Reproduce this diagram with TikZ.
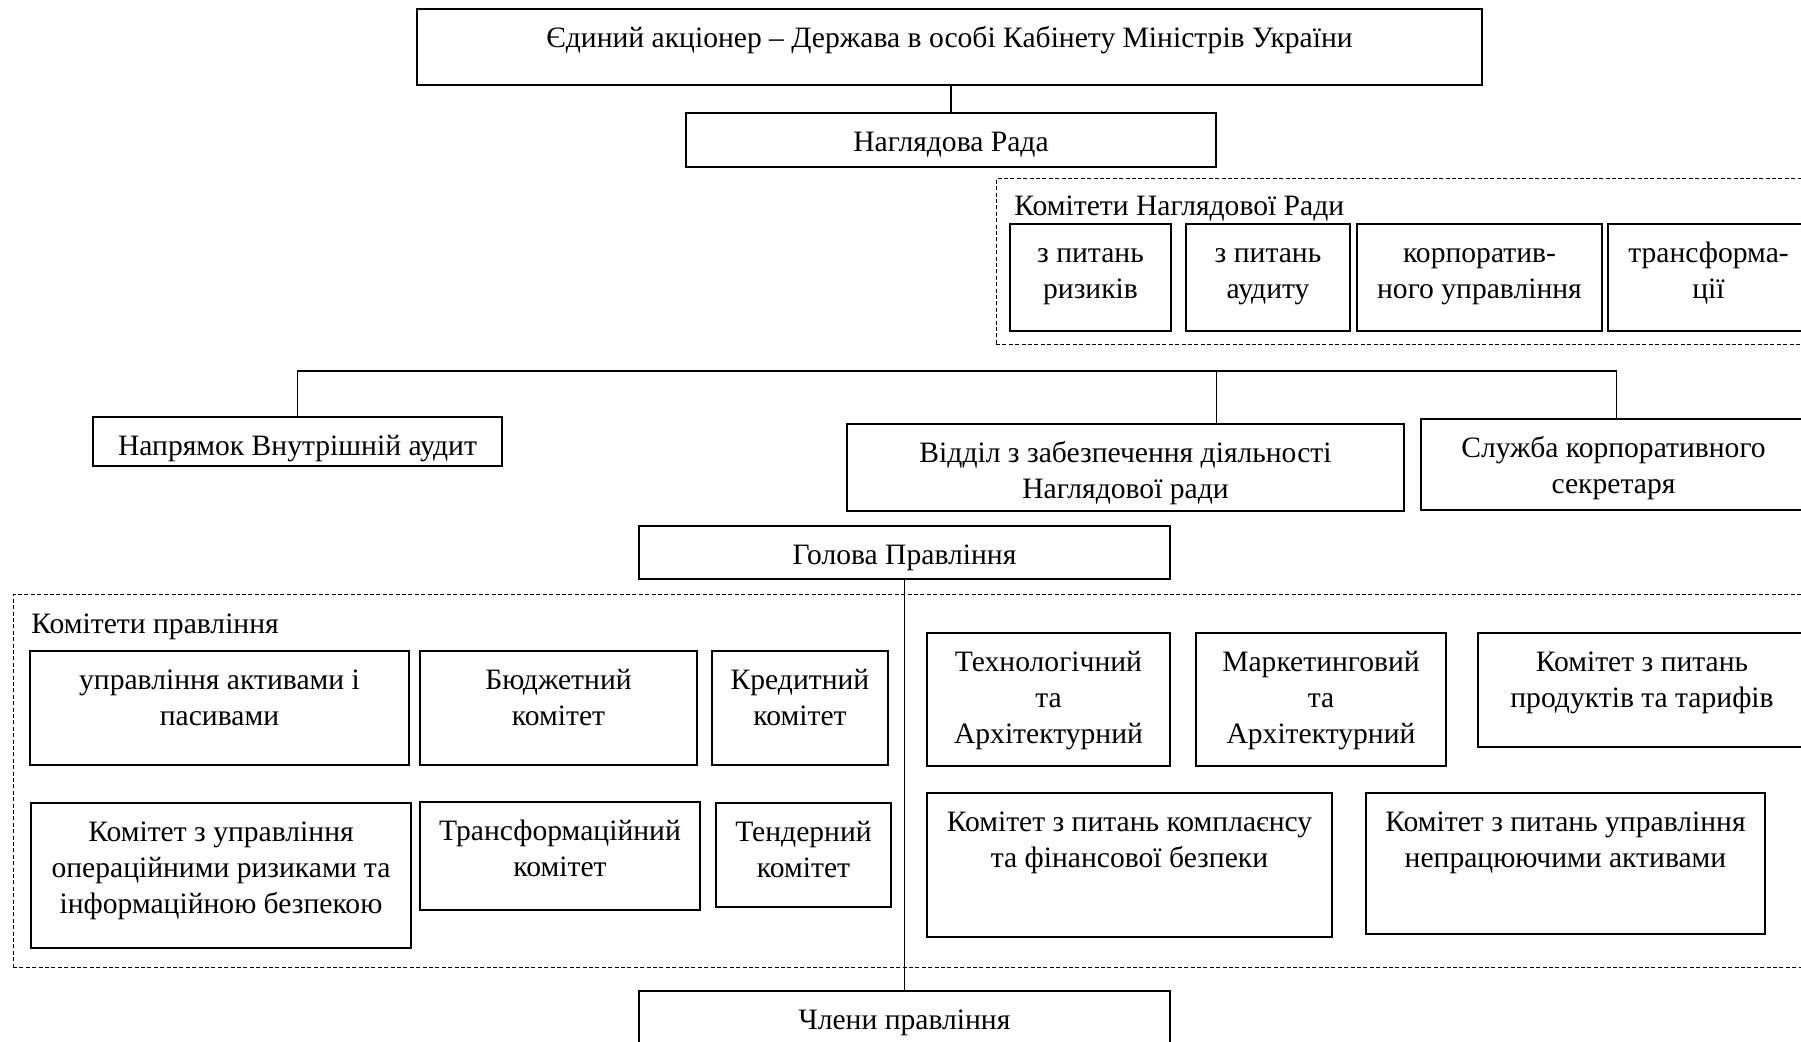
\documentclass[tikz,border=0pt]{standalone}
\usepackage{fontspec}
\setmainfont{Liberation Serif}
\usetikzlibrary{fit,shadows}
\newcommand\tstrut{\rule{0pt}{14pt}}
\tikzset{
  box/.style={draw, fill=white, line width=0.6pt, inner sep=0pt, rectangle,
    drop shadow={shadow xshift=0.6pt, shadow yshift=-0.6pt, fill=black!50, opacity=0.8}},
  grp/.style={draw, dash pattern=on 2pt off 1.2pt, line width=0.5pt, inner sep=0pt, rectangle},
  txt/.style={align=center, inner sep=0pt, font=\fontsize{14.8}{18}\selectfont},
  ttl/.style={inner sep=0pt, font=\fontsize{14.8}{18}\selectfont, anchor=base west},
  conn/.style={line width=0.6pt}
}
\newcommand\obox[6]{%
  \node[box, fit={(#2,#3) (#4,#5)}] (#1) {};
  \node[txt, anchor=north] (#1-t) at ([yshift=-5.5pt]#1.north) {\tstrut #6};}
\begin{document}
\begin{tikzpicture}[x=0.5pt,y=-0.5pt]
\clip (0,0) rectangle (1801,1042);
\fill[white] (0,0) rectangle (1801,1042);
% containers
\node[grp, fit={(996,179) (1815,345)}] (grpNR) {};
\node[ttl] (grpNR-t) at (1014,216) {Комітети Наглядової Ради};
\node[grp, fit={(13,595) (1815,968)}] (grpP) {};
\node[ttl] (grpP-t) at (31,634) {Комітети правління};
% boxes
\obox{top}{417}{9}{1482}{85}{Єдиний акціонер – Держава в особі Кабінету Міністрів України}
\obox{nr}{686}{113}{1216}{167}{Наглядова Рада}
\obox{k1}{1010}{224}{1171}{331}{з питань\\ризиків}
\obox{k2}{1186}{224}{1350}{331}{з питань\\аудиту}
\obox{k3}{1357}{224}{1602}{331}{корпоратив-\\ного управління}
\obox{k4}{1608}{224}{1809}{331}{трансформа-\\ції}
\obox{vna}{93}{417}{502}{466}{Напрямок Внутрішній аудит}
\obox{vid}{847}{424}{1404}{511}{Відділ з забезпечення діяльності\\Наглядової ради}
\obox{sl}{1421}{419}{1806}{510}{Служба корпоративного\\секретаря}
\obox{gp}{639}{526}{1170}{579}{Голова Правління}
\obox{c1}{30}{651}{409}{765}{управління активами і\\пасивами}
\obox{c2}{420}{651}{697}{765}{Бюджетний\\комітет}
\obox{c3}{712}{651}{888}{765}{Кредитний\\комітет}
\obox{c4}{31}{803}{411}{948}{Комітет з управління\\операційними ризиками та\\інформаційною безпекою}
\obox{c5}{420}{802}{700}{910}{Трансформаційний\\комітет}
\obox{c6}{716}{803}{891}{907}{Тендерний\\комітет}
\obox{c7}{927}{633}{1170}{766}{Технологічний\\та\\Архітектурний}
\obox{c8}{1196}{633}{1446}{766}{Маркетинговий\\та\\Архітектурний}
\obox{c9}{1478}{633}{1806}{747}{Комітет з питань\\продуктів та тарифів}
\obox{c10}{927}{793}{1332}{937}{Комітет з питань комплаєнсу\\та фінансової безпеки}
\obox{c11}{1366}{793}{1765}{934}{Комітет з питань управління\\непрацюючими активами}
\obox{chp}{639}{991}{1170}{1050}{Члени правління}
% connectors
\draw[conn] (top.south -| nr.north) -- (nr.north);
\coordinate (bus) at (0,371);
\coordinate (slin) at ([xshift=98pt]sl.north west);
\draw[conn] (vna.north) -- (vna.north |- bus) -- (slin |- bus) -- (slin);
\draw[conn] (nr.east |- bus) -- (nr.east |- vid.north);
\draw[conn] (gp.south) -- (chp.north);
\end{tikzpicture}
\end{document}
